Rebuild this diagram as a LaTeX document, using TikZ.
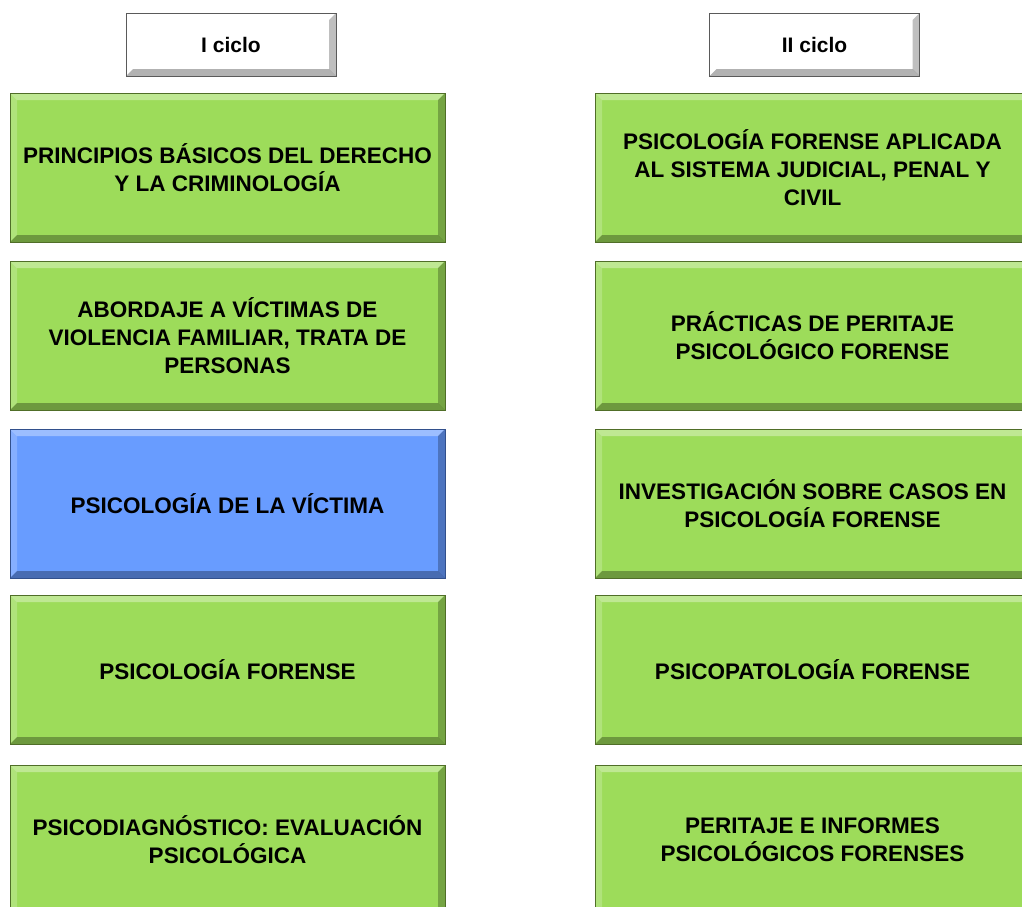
\documentclass[tikz,border=0pt]{standalone}
\usepackage{fontspec}
\setmainfont{Liberation Sans}
\definecolor{gfill}{RGB}{157,220,90}
\definecolor{gline}{RGB}{80,110,40}
\definecolor{bfill}{RGB}{104,156,255}
\definecolor{bline}{RGB}{50,80,140}
\definecolor{hline}{RGB}{90,90,90}
\tikzset{
  bev/.style={path picture={
    \fill[white,opacity=0.35] (path picture bounding box.north west) -- (path picture bounding box.north east)
      -- ([shift={(-7pt,-7pt)}]path picture bounding box.north east) -- ([shift={(7pt,-7pt)}]path picture bounding box.north west) -- cycle;
    \fill[white,opacity=0.2] (path picture bounding box.north west) -- ([shift={(7pt,-7pt)}]path picture bounding box.north west)
      -- ([shift={(7pt,7pt)}]path picture bounding box.south west) -- (path picture bounding box.south west) -- cycle;
    \fill[black,opacity=0.3] (path picture bounding box.south west) -- (path picture bounding box.south east)
      -- ([shift={(-7pt,7pt)}]path picture bounding box.south east) -- ([shift={(7pt,7pt)}]path picture bounding box.south west) -- cycle;
    \fill[black,opacity=0.25] (path picture bounding box.north east) -- (path picture bounding box.south east)
      -- ([shift={(-7pt,7pt)}]path picture bounding box.south east) -- ([shift={(-7pt,-7pt)}]path picture bounding box.north east) -- cycle;
  }},
  course/.style={bev, rectangle, draw=gline, line width=1pt, fill=gfill, minimum width=435pt, minimum height=149pt,
    inner sep=0pt, align=center, font=\bfseries\fontsize{22.5}{28}\selectfont},
  focus/.style={course, draw=bline, fill=bfill},
  header/.style={bev, rectangle, draw=hline, line width=1pt, fill=white, minimum width=210pt, minimum height=63pt,
    inner sep=0pt, font=\bfseries\fontsize{21}{24}\selectfont}
}
\begin{document}
\begin{tikzpicture}[x=1pt,y=-1pt]
\useasboundingbox (0,0) rectangle (1022,906);
\clip (0,0) rectangle (1022,906);
\node[header] (h1) at (231,44.5) {I ciclo};
\node[header] (h2) at (814.5,44.5) {II ciclo};
\node[course] (a1) at (227.5,167.5) {PRINCIPIOS BÁSICOS DEL DERECHO\\Y LA CRIMINOLOGÍA};
\node[course] (a2) at (227.5,335.5) {ABORDAJE A VÍCTIMAS DE\\VIOLENCIA FAMILIAR, TRATA DE\\PERSONAS};
\node[focus] (a3) at (227.5,503.5) {PSICOLOGÍA DE LA VÍCTIMA};
\node[course] (a4) at (227.5,669.5) {PSICOLOGÍA FORENSE};
\node[course] (a5) at (227.5,839.5) {PSICODIAGNÓSTICO: EVALUACIÓN\\PSICOLÓGICA};
\node[course] (b1) at (812.5,167.5) {PSICOLOGÍA FORENSE APLICADA\\AL SISTEMA JUDICIAL, PENAL Y\\CIVIL};
\node[course] (b2) at (812.5,335.5) {PRÁCTICAS DE PERITAJE\\PSICOLÓGICO FORENSE};
\node[course] (b3) at (812.5,503.5) {INVESTIGACIÓN SOBRE CASOS EN\\PSICOLOGÍA FORENSE};
\node[course] (b4) at (812.5,669.5) {PSICOPATOLOGÍA FORENSE};
\node[course] (b5) at (812.5,839.5) {PERITAJE E INFORMES\\PSICOLÓGICOS FORENSES};
\end{tikzpicture}
\end{document}
